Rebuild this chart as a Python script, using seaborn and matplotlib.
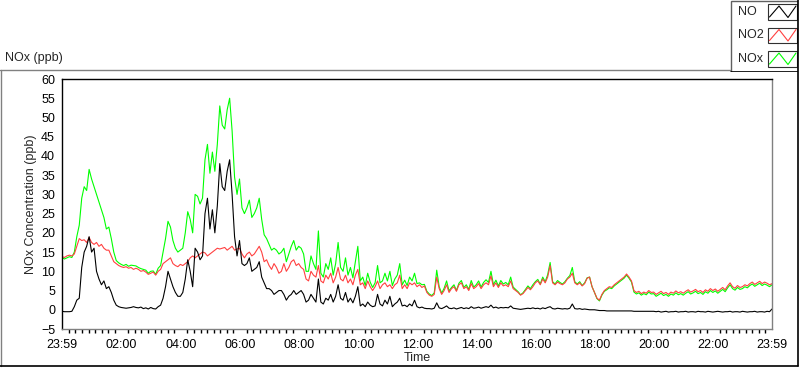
import numpy as np
import pandas as pd
import seaborn as sns
from matplotlib import pyplot as plt
from matplotlib.lines import Line2D
from matplotlib.patches import Rectangle

# readings every 5 min from 23:59 to 23:59 next day, one row per hour (ppb)
no_ppb = [
    -0.4, -0.5, -0.5, -0.5, -0.4, 0.8, 2.5, 3.0, 11, 15, 16.5, 19,
    15, 16, 10, 8, 6.5, 7.5, 5.5, 6, 4.5, 2.5, 1.2, 0.8,
    0.6, 0.5, 0.4, 0.5, 0.6, 0.8, 0.6, 0.5, 0.7, 0.3, 0.5, 0.2,
    0.6, 0.3, 0.2, 0.8, 1.2, 3.0, 6, 10, 8, 6, 4.5, 3.5,
    3.5, 4.5, 8, 13, 10, 6, 16, 15, 13, 14, 25, 29,
    21, 26, 20, 27, 38, 32, 31, 36, 39, 30, 19, 14,
    18, 12, 11.5, 12, 13.5, 10, 10.5, 11, 12.5, 8.5, 7, 5.5,
    5.5, 5, 4, 4.5, 5, 5, 4, 2.5, 3.5, 4, 5, 4,
    4.5, 5, 4, 2, 2.5, 4, 3, 2, 8, 2, 1.5, 3,
    2.5, 4.0, 2.0, 3.5, 6.5, 3.0, 2.5, 4.5, 2.0, 3.0, 1.8, 3.5,
    6.0, 1.0, 1.5, 0.8, 2.0, 1.2, 0.8, 1.0, 4.0, 1.5, 1.0, 2.5,
    1.5, 3.5, 0.8, 1.5, 2.0, 3.0, 1.0, 1.2, 0.8, 1.5, 1.0, 2.5,
    0.8, 0.5, 0.7, 0.4, 0.3, 0.3, 0.2, 0.4, 1.8, 0.5, 0.3, 0.6,
    1.0, 0.4, 0.3, 0.5, 0.2, 0.4, 0.6, 0.3, 0.5, 0.3, 0.8, 0.4,
    0.5, 0.7, 0.4, 0.6, 0.8, 0.6, 1.2, 0.5, 0.7, 0.4, 0.6, 0.5,
    0.6, 0.5, 1.0, 0.4, 0.3, 0.2, 0.1, 0.2, 0.3, 0.4, 0.3, 0.5,
    0.3, 0.4, 0.2, 0.5, 0.3, 0.6, 0.8, 0.3, 0.2, 0.4, 0.3, 0.2,
    0.3, 0.2, 0.4, 1.5, 0.3, 0.2, 0.3, 0.1, 0.2, 0.1, 0.0, 0.0,
    0.0, -0.1, -0.2, -0.2, -0.2, -0.3, -0.3, -0.3, -0.3, -0.3, -0.3, -0.3,
    -0.3, -0.3, -0.3, -0.3, -0.4, -0.4, -0.4, -0.4, -0.4, -0.4, -0.4, -0.4,
    -0.4, -0.5, -0.4, -0.6, -0.5, -0.4, -0.6, -0.5, -0.5, -0.4, -0.6, -0.5,
    -0.5, -0.4, -0.6, -0.5, -0.5, -0.6, -0.4, -0.5, -0.5, -0.6, -0.4, -0.5,
    -0.6, -0.5, -0.4, -0.5, -0.6, -0.5, -0.5, -0.4, -0.6, -0.5, -0.5, -0.6,
    -0.4, -0.5, -0.6, -0.5, -0.5, -0.4, -0.6, -0.5, -0.5, -0.6, -0.4, -0.5,
    0.2,
]

no2_ppb = [
    13.8, 13.6, 14.0, 14.2, 14.0, 14.5, 16.5, 18.5, 18.0, 18.2, 17.5, 18.8,
    17.5, 17.0, 17.5, 16.5, 17.0, 16.0, 15.5, 15.5, 14.0, 12.5, 12.0, 11.5,
    11.2, 11.0, 11.2, 10.8, 11.0, 10.5, 10.8, 10.5, 10.0, 10.2, 9.8, 9.2,
    9.5, 9.8, 9.0, 10.0, 10.5, 12.0, 12.5, 13.0, 13.5, 12.0, 11.5, 11.2,
    11.8, 11.5, 12.0, 12.5, 13.5, 14.0, 13.5, 14.0, 14.5, 15.0, 14.8, 14.0,
    14.5, 15.0, 15.5, 16.0, 15.8, 16.0, 16.2, 15.5, 16.0, 16.5, 15.5, 15.8,
    16.0, 14.5, 13.5, 14.5, 15.0, 14.0, 14.5, 15.5, 16.5, 15.0, 12.5, 13.0,
    11.5, 10.5, 12.0, 11.0, 9.5, 10.0, 12.0, 10.0, 11.0, 12.5, 13.0, 11.5,
    12.0, 11.0, 10.5, 8.0, 7.5, 10.0, 9.0, 8.5, 11.5, 7.5, 7.0, 9.0,
    8.0, 9.5, 7.0, 8.5, 11.0, 8.0, 7.5, 9.0, 7.0, 8.0, 6.5, 9.0,
    10.5, 6.5, 7.0, 5.5, 7.5, 6.0, 5.0, 6.0, 7.5, 5.5, 6.5, 7.0,
    6.0, 6.5, 5.5, 6.5, 7.0, 9.0, 5.5, 6.5, 5.5, 7.0, 6.5, 7.0,
    6.0, 6.5, 5.8, 6.2, 4.5, 3.8, 3.5, 4.0, 8.5, 5.5, 4.0, 5.0,
    6.5, 4.5, 5.5, 6.0, 4.8, 6.5, 7.0, 5.5, 6.0, 5.0, 6.8, 5.5,
    6.0, 6.8, 5.5, 6.5, 7.0, 6.5, 8.8, 6.0, 7.0, 5.8, 7.0, 6.2,
    6.5, 6.0, 7.5, 5.5, 5.0, 4.5, 3.8, 4.2, 5.0, 5.8, 5.2, 6.0,
    7.0, 7.5, 6.5, 8.0, 7.0, 8.5, 11.5, 7.0, 6.5, 7.2, 6.8, 6.5,
    7.0, 8.0, 8.5, 9.5, 7.0, 6.5, 7.0, 6.2, 6.8, 8.2, 8.5, 6.0,
    4.5, 3.0, 2.5, 4.0, 5.0, 5.5, 6.0, 5.8, 6.5, 7.0, 7.5, 8.0,
    8.5, 9.3, 8.5, 7.5, 5.0, 4.5, 4.8, 4.2, 4.6, 4.3, 5.0, 4.5,
    4.6, 4.0, 4.4, 4.8, 4.2, 4.5, 4.0, 4.6, 4.3, 4.9, 4.4, 4.7,
    4.3, 4.8, 5.2, 4.6, 4.9, 5.3, 4.7, 5.0, 4.5, 5.2, 4.8, 5.5,
    5.0, 5.4, 4.8, 5.3, 5.8, 5.2, 6.2, 7.0, 6.0, 5.6, 6.3, 5.8,
    6.0, 6.5, 6.2, 6.8, 7.2, 6.6, 7.0, 7.4, 6.8, 7.2, 6.9, 6.5,
    6.8,
]

nox_ppb = [
    13.6, 13.2, 13.5, 13.8, 13.6, 15.0, 19.0, 22.0, 29.0, 32.0, 31.0, 36.5,
    34.0, 32.0, 30.0, 28.0, 26.0, 24.0, 21.0, 21.5, 18.5, 15.0, 12.8, 12.2,
    11.8, 11.5, 11.8, 11.3, 11.6, 11.5, 11.4, 11.0, 10.7, 10.5, 10.3, 9.5,
    10.0, 10.1, 9.2, 10.8, 11.5, 15.0, 18.5, 23.0, 21.5, 18.0, 16.0, 15.0,
    15.5, 16.0, 20.0, 25.5, 23.5, 20.0, 30.0, 29.5, 27.5, 29.0, 39.0, 43.0,
    35.5, 41.0, 36.0, 43.0, 53.0, 48.0, 47.0, 52.0, 55.0, 46.5, 34.5, 30.0,
    34.0, 26.5, 25.0, 26.5, 28.5, 24.0, 25.0, 26.5, 29.0, 23.5, 19.5, 18.5,
    17.0, 15.5, 16.0, 15.5, 14.5, 15.0, 16.0, 12.5, 14.5, 16.5, 18.0, 15.5,
    16.5, 16.0, 14.5, 10.0, 10.0, 14.0, 12.0, 10.5, 20.5, 9.5, 8.5, 12.0,
    10.5, 13.5, 9.0, 12.0, 17.5, 11.0, 10.0, 13.5, 9.0, 11.0, 8.3, 12.5,
    16.5, 7.5, 8.5, 6.3, 9.5, 7.2, 5.8, 7.0, 11.5, 7.0, 7.5, 9.5,
    7.5, 10.0, 6.3, 8.0, 9.0, 12.0, 6.5, 7.7, 6.3, 8.5, 7.5, 9.5,
    6.8, 7.0, 6.5, 6.6, 4.8, 4.1, 3.7, 4.4, 10.3, 6.0, 4.3, 5.6,
    7.5, 4.9, 5.8, 6.5, 5.0, 6.9, 7.6, 5.8, 6.5, 5.3, 7.6, 5.9,
    6.5, 7.5, 5.9, 7.1, 7.8, 7.1, 10.0, 6.5, 7.7, 6.2, 7.6, 6.7,
    7.1, 6.5, 8.5, 5.9, 5.3, 4.7, 3.9, 4.4, 5.3, 6.2, 5.5, 6.5,
    7.3, 7.9, 6.7, 8.5, 7.3, 9.1, 12.3, 7.3, 6.7, 7.6, 7.1, 6.7,
    7.3, 8.2, 8.9, 11.0, 7.3, 6.7, 7.3, 6.3, 7.0, 8.3, 8.5, 6.0,
    4.5, 2.9, 2.3, 3.8, 4.8, 5.2, 5.7, 5.5, 6.2, 6.7, 7.2, 7.7,
    8.2, 9.0, 8.2, 7.2, 4.6, 4.1, 4.4, 3.8, 4.2, 3.9, 4.6, 4.1,
    4.2, 3.5, 3.9, 4.3, 3.7, 4.0, 3.5, 4.1, 3.8, 4.4, 3.9, 4.2,
    3.8, 4.3, 4.7, 4.1, 4.4, 4.8, 4.2, 4.5, 4.0, 4.7, 4.3, 5.0,
    4.5, 4.9, 4.3, 4.8, 5.3, 4.7, 5.7, 6.5, 5.5, 5.1, 5.8, 5.3,
    5.5, 6.0, 5.7, 6.3, 6.7, 6.1, 6.5, 6.9, 6.3, 6.7, 6.4, 6.0,
    6.5,
]

species = ["NO", "NO2", "NOx"]
line_colors = {"NO": "#000000", "NO2": "#ff4040", "NOx": "#00ff00"}
tick_labels = ["23:59", "02:00", "04:00", "06:00", "08:00", "10:00", "12:00",
               "14:00", "16:00", "18:00", "20:00", "22:00", "23:59"]

hours = np.arange(len(no_ppb)) * 5 / 60
df = pd.concat([
    pd.DataFrame({"time": hours, "ppb": no_ppb, "species": "NO"}),
    pd.DataFrame({"time": hours, "ppb": no2_ppb, "species": "NO2"}),
    pd.DataFrame({"time": hours, "ppb": nox_ppb, "species": "NOx"}),
])

sns.set_style("white")
plt.rcParams["font.family"] = ["Liberation Sans", "DejaVu Sans"]

W, H = 800, 369
fig = plt.figure(figsize=(W / 100, H / 100), dpi=100)


def fx(px):
    return px / W


def fy(py):
    return 1 - py / H


ax = fig.add_axes([fx(62), fy(329), fx(772) - fx(62), fy(79) - fy(329)])
sns.lineplot(data=df, x="time", y="ppb", hue="species",
             hue_order=["NOx", "NO2", "NO"], palette=line_colors,
             linewidth=0.8, legend=False, sort=False, estimator=None, ax=ax)

ax.set_xlim(0, 24)
ax.set_ylim(-5, 60)
ax.set_yticks(range(-5, 61, 5))
major = [0] + [2 * i + 1 / 60 for i in range(1, 12)] + [24]
ax.set_xticks(major)
ax.set_xticklabels(tick_labels)
minor = []
for a, b in zip(major[:-1], major[1:]):
    minor += list(np.linspace(a, b, 10)[1:-1])
ax.set_xticks(minor, minor=True)
ax.tick_params(axis="both", which="both", direction="out", colors="black",
               labelsize=9, width=1)
ax.tick_params(axis="y", length=4, pad=1)
ax.tick_params(axis="x", which="major", length=5, pad=2)
ax.tick_params(axis="x", which="minor", length=3, bottom=True)
ax.set_xlabel("Time", fontsize=9, labelpad=1)
ax.set_ylabel("NOx Concentration (ppb)", fontsize=9, labelpad=3)
for side in ["top", "left"]:
    ax.spines[side].set_color("black")
for side in ["right", "bottom"]:
    ax.spines[side].set_color("#808080")
for s in ax.spines.values():
    s.set_linewidth(1)

fig.text(fx(5), fy(58), "NOx (ppb)", fontsize=9, va="center", ha="left")

# panel frame
fig.add_artist(Line2D([fx(0), fx(730)], [fy(70), fy(70)], color="#808080", lw=1))
fig.add_artist(Line2D([fx(1), fx(1)], [fy(70), fy(366)], color="#808080", lw=1))
fig.add_artist(Line2D([fx(0), fx(798)], [fy(366), fy(366)], color="black", lw=1.2))
fig.add_artist(Line2D([fx(798), fx(798)], [fy(0), fy(366)], color="black", lw=1.2))

# legend box
lax = fig.add_axes([fx(730), fy(72), fx(798) - fx(730), fy(0) - fy(72)])
lax.set_xlim(730, 798)
lax.set_ylim(72, 0)
lax.axis("off")
lax.add_patch(Rectangle((730.5, 0.5), 67, 71, facecolor="white",
                        edgecolor="#606060", lw=1))
lax.plot([730.5, 797.5], [71.5, 71.5], color="black", lw=1.2)
for i, name in enumerate(species):
    top = 4 + 23.5 * i
    lax.text(738, top + 8, name, fontsize=9, va="center", ha="left")
    lax.add_patch(Rectangle((767.5, top), 29, 15.5, facecolor="white",
                            edgecolor="#303030", lw=0.8))
    lax.plot([769.5, 779, 788, 796], [top + 13, top + 2, top + 13.5, top + 2],
             color=line_colors[name], lw=0.8)

fig.savefig("out.png", dpi=100)
